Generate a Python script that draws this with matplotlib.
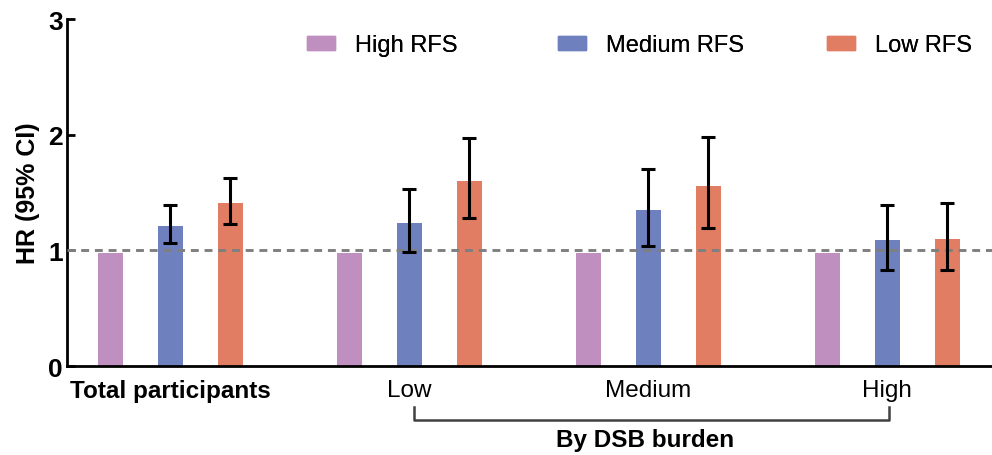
import matplotlib
matplotlib.use("Agg")
import matplotlib.pyplot as plt
import matplotlib.patches as mpatches
import matplotlib.transforms as mtransforms
import numpy as np

plt.rcParams['font.family'] = ['Liberation Sans', 'DejaVu Sans']

groups = ['Total participants', 'Low', 'Medium', 'High']
series = ['High RFS', 'Medium RFS', 'Low RFS']
colors = ['#BF8FC0', '#6F80BF', '#E07D62']

high_hr = [0.98, 0.98, 0.98, 0.98]
med_hr = [1.21, 1.24, 1.35, 1.09]
med_lo = [1.06, 0.99, 1.04, 0.83]
med_hi = [1.39, 1.53, 1.70, 1.39]
low_hr = [1.41, 1.60, 1.56, 1.10]
low_lo = [1.23, 1.28, 1.19, 0.83]
low_hi = [1.63, 1.97, 1.98, 1.41]

fig = plt.figure(figsize=(9.92, 4.56), dpi=100)
ax = fig.add_axes([0.0675, 0.195, 0.9325, 0.761])

x = np.arange(len(groups)) * 4.0
w = 0.42

ax.bar(x - 1, high_hr, w, color=colors[0], zorder=2)
ax.bar(x, med_hr, w, color=colors[1], zorder=2)
ax.bar(x + 1, low_hr, w, color=colors[2], zorder=2)

med_err = [np.array(med_hr) - np.array(med_lo), np.array(med_hi) - np.array(med_hr)]
low_err = [np.array(low_hr) - np.array(low_lo), np.array(low_hi) - np.array(low_hr)]
ax.errorbar(x, med_hr, yerr=med_err, fmt='none', ecolor='black',
            elinewidth=2.2, capsize=5.2, capthick=2.2, zorder=4)
ax.errorbar(x + 1, low_hr, yerr=low_err, fmt='none', ecolor='black',
            elinewidth=2.2, capsize=5.2, capthick=2.2, zorder=4)

ax.axhline(1.0, color='#7f7f7f', lw=2.1, dashes=(2.7, 2.0), zorder=3)

ax.set_xlim(-1.73, 13.75)
ax.set_ylim(0, 3)
ax.set_yticks([0, 1, 2, 3])
ax.set_yticklabels(['0', '1', '2', '3'], fontsize=19, fontweight='bold')
ax.tick_params(axis='y', direction='in', length=6, width=2, pad=3)
ax.set_xticks(x)
ax.set_xticklabels(groups, fontsize=17.5)
ax.tick_params(axis='x', length=0, pad=9)
ax.get_xticklabels()[0].set_fontweight('bold')

for s in ['top', 'right']:
    ax.spines[s].set_visible(False)
for s in ['left', 'bottom']:
    ax.spines[s].set_linewidth(2)

ax.set_ylabel('HR (95% CI)', fontsize=18, fontweight='bold', labelpad=6)

# bracket under DSB burden groups
trans = mtransforms.blended_transform_factory(ax.transData, ax.transAxes)
ax.plot([x[1] + 0.07, x[1] + 0.07, x[3] + 0.03, x[3] + 0.03],
        [-0.118, -0.156, -0.156, -0.118], color='#404040', lw=1.8,
        transform=trans, clip_on=False)
ax.text(x[2] - 0.05, -0.213, 'By DSB burden', transform=trans, ha='center',
        va='center', fontsize=17.5, fontweight='bold')

# legend entries placed one by one along the top
legend_left = [307, 558, 827]
for c, l, px in zip(colors, series, legend_left):
    leg = fig.legend(handles=[mpatches.Patch(color=c, label=l)], frameon=False,
                     fontsize=17, loc='center left',
                     bbox_to_anchor=(px / 992, 1 - 46 / 456),
                     handlelength=1.2, handleheight=0.55, handletextpad=0.85,
                     borderaxespad=0, borderpad=0)
    fig.add_artist(leg)

fig.savefig('out.png', dpi=100)
